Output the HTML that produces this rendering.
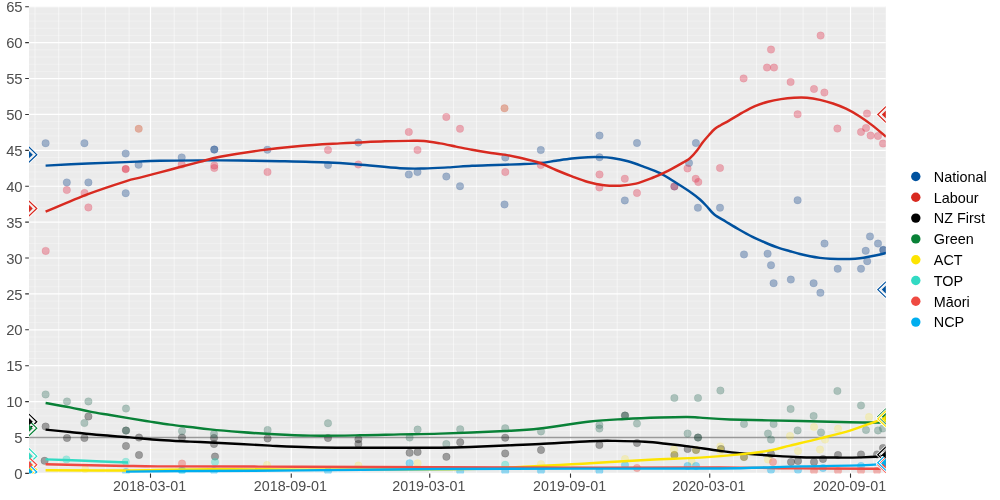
<!DOCTYPE html><html><head><meta charset="utf-8"><style>html,body{margin:0;padding:0;background:#fff;}svg{display:block;will-change:transform;}text{font-family:"Liberation Sans",sans-serif;}</style></head><body>
<svg width="1000" height="500" viewBox="0 0 1000 500">
<defs><clipPath id="pc"><rect x="29.00" y="6.10" width="856.80" height="467.50"/></clipPath></defs>
<rect x="0" y="0" width="1000" height="500" fill="#ffffff"/>
<rect x="29.00" y="6.10" width="856.80" height="467.50" fill="#EBEBEB"/>
<path d="M29.0 466.22H885.8 M29.0 459.04H885.8 M29.0 451.86H885.8 M29.0 444.68H885.8 M29.0 430.32H885.8 M29.0 423.15H885.8 M29.0 415.97H885.8 M29.0 408.79H885.8 M29.0 394.43H885.8 M29.0 387.25H885.8 M29.0 380.07H885.8 M29.0 372.89H885.8 M29.0 358.53H885.8 M29.0 351.35H885.8 M29.0 344.17H885.8 M29.0 336.99H885.8 M29.0 322.64H885.8 M29.0 315.46H885.8 M29.0 308.28H885.8 M29.0 301.10H885.8 M29.0 286.74H885.8 M29.0 279.56H885.8 M29.0 272.38H885.8 M29.0 265.20H885.8 M29.0 250.84H885.8 M29.0 243.66H885.8 M29.0 236.49H885.8 M29.0 229.31H885.8 M29.0 214.95H885.8 M29.0 207.77H885.8 M29.0 200.59H885.8 M29.0 193.41H885.8 M29.0 179.05H885.8 M29.0 171.87H885.8 M29.0 164.69H885.8 M29.0 157.51H885.8 M29.0 143.16H885.8 M29.0 135.98H885.8 M29.0 128.80H885.8 M29.0 121.62H885.8 M29.0 107.26H885.8 M29.0 100.08H885.8 M29.0 92.90H885.8 M29.0 85.72H885.8 M29.0 71.36H885.8 M29.0 64.18H885.8 M29.0 57.00H885.8 M29.0 49.83H885.8 M29.0 35.47H885.8 M29.0 28.29H885.8 M29.0 21.11H885.8 M29.0 13.93H885.8" stroke="#ffffff" stroke-opacity="0.55" stroke-width="0.55" fill="none"/>
<path d="M34.98 6.1V473.6 M58.70 6.1V473.6 M81.65 6.1V473.6 M105.36 6.1V473.6 M129.08 6.1V473.6 M174.22 6.1V473.6 M197.17 6.1V473.6 M220.88 6.1V473.6 M243.84 6.1V473.6 M267.55 6.1V473.6 M314.22 6.1V473.6 M337.93 6.1V473.6 M360.89 6.1V473.6 M384.60 6.1V473.6 M408.32 6.1V473.6 M453.45 6.1V473.6 M476.41 6.1V473.6 M500.12 6.1V473.6 M523.07 6.1V473.6 M546.79 6.1V473.6 M593.46 6.1V473.6 M617.17 6.1V473.6 M640.12 6.1V473.6 M663.84 6.1V473.6 M687.56 6.1V473.6 M733.46 6.1V473.6 M756.41 6.1V473.6 M780.13 6.1V473.6 M803.08 6.1V473.6 M826.79 6.1V473.6 M873.46 6.1V473.6" stroke="#ffffff" stroke-opacity="0.75" stroke-width="0.7" fill="none"/>
<path d="M29.0 473.40H885.8 M29.0 437.50H885.8 M29.0 401.61H885.8 M29.0 365.71H885.8 M29.0 329.82H885.8 M29.0 293.92H885.8 M29.0 258.02H885.8 M29.0 222.13H885.8 M29.0 186.23H885.8 M29.0 150.33H885.8 M29.0 114.44H885.8 M29.0 78.54H885.8 M29.0 42.65H885.8 M29.0 6.75H885.8 M150.50 6.1V473.6 M291.27 6.1V473.6 M429.74 6.1V473.6 M570.51 6.1V473.6 M709.74 6.1V473.6 M850.51 6.1V473.6" stroke="#ffffff" stroke-width="1.2" fill="none"/>
<path d="M29.0 437.50H885.8" stroke="#9a9a9a" stroke-width="1.6" fill="none"/>
<g clip-path="url(#pc)">
<circle cx="45.6" cy="143.2" r="3.75" fill="#1f4f8f" fill-opacity="0.38" stroke="#1f4f8f" stroke-opacity="0.19" stroke-width="0.7"/>
<circle cx="84.4" cy="143.2" r="3.75" fill="#1f4f8f" fill-opacity="0.38" stroke="#1f4f8f" stroke-opacity="0.19" stroke-width="0.7"/>
<circle cx="66.8" cy="182.4" r="3.75" fill="#1f4f8f" fill-opacity="0.38" stroke="#1f4f8f" stroke-opacity="0.19" stroke-width="0.7"/>
<circle cx="88.4" cy="182.4" r="3.75" fill="#1f4f8f" fill-opacity="0.38" stroke="#1f4f8f" stroke-opacity="0.19" stroke-width="0.7"/>
<circle cx="125.7" cy="153.6" r="3.75" fill="#1f4f8f" fill-opacity="0.38" stroke="#1f4f8f" stroke-opacity="0.19" stroke-width="0.7"/>
<circle cx="125.7" cy="193.2" r="3.75" fill="#1f4f8f" fill-opacity="0.38" stroke="#1f4f8f" stroke-opacity="0.19" stroke-width="0.7"/>
<circle cx="138.6" cy="164.8" r="3.75" fill="#1f4f8f" fill-opacity="0.38" stroke="#1f4f8f" stroke-opacity="0.19" stroke-width="0.7"/>
<circle cx="181.7" cy="157.4" r="3.75" fill="#1f4f8f" fill-opacity="0.38" stroke="#1f4f8f" stroke-opacity="0.19" stroke-width="0.7"/>
<circle cx="214.3" cy="149.6" r="3.75" fill="#1f4f8f" fill-opacity="0.38" stroke="#1f4f8f" stroke-opacity="0.19" stroke-width="0.7"/>
<circle cx="214.3" cy="149.6" r="3.75" fill="#1f4f8f" fill-opacity="0.38" stroke="#1f4f8f" stroke-opacity="0.19" stroke-width="0.7"/>
<circle cx="267.4" cy="149.7" r="3.75" fill="#1f4f8f" fill-opacity="0.38" stroke="#1f4f8f" stroke-opacity="0.19" stroke-width="0.7"/>
<circle cx="328.0" cy="165.0" r="3.75" fill="#1f4f8f" fill-opacity="0.38" stroke="#1f4f8f" stroke-opacity="0.19" stroke-width="0.7"/>
<circle cx="358.3" cy="142.5" r="3.75" fill="#1f4f8f" fill-opacity="0.38" stroke="#1f4f8f" stroke-opacity="0.19" stroke-width="0.7"/>
<circle cx="408.8" cy="174.5" r="3.75" fill="#1f4f8f" fill-opacity="0.38" stroke="#1f4f8f" stroke-opacity="0.19" stroke-width="0.7"/>
<circle cx="417.5" cy="172.0" r="3.75" fill="#1f4f8f" fill-opacity="0.38" stroke="#1f4f8f" stroke-opacity="0.19" stroke-width="0.7"/>
<circle cx="446.3" cy="176.5" r="3.75" fill="#1f4f8f" fill-opacity="0.38" stroke="#1f4f8f" stroke-opacity="0.19" stroke-width="0.7"/>
<circle cx="460.0" cy="186.2" r="3.75" fill="#1f4f8f" fill-opacity="0.38" stroke="#1f4f8f" stroke-opacity="0.19" stroke-width="0.7"/>
<circle cx="505.3" cy="157.5" r="3.75" fill="#1f4f8f" fill-opacity="0.38" stroke="#1f4f8f" stroke-opacity="0.19" stroke-width="0.7"/>
<circle cx="504.5" cy="204.4" r="3.75" fill="#1f4f8f" fill-opacity="0.38" stroke="#1f4f8f" stroke-opacity="0.19" stroke-width="0.7"/>
<circle cx="540.8" cy="150.0" r="3.75" fill="#1f4f8f" fill-opacity="0.38" stroke="#1f4f8f" stroke-opacity="0.19" stroke-width="0.7"/>
<circle cx="599.5" cy="135.6" r="3.75" fill="#1f4f8f" fill-opacity="0.38" stroke="#1f4f8f" stroke-opacity="0.19" stroke-width="0.7"/>
<circle cx="599.5" cy="157.3" r="3.75" fill="#1f4f8f" fill-opacity="0.38" stroke="#1f4f8f" stroke-opacity="0.19" stroke-width="0.7"/>
<circle cx="637.0" cy="143.0" r="3.75" fill="#1f4f8f" fill-opacity="0.38" stroke="#1f4f8f" stroke-opacity="0.19" stroke-width="0.7"/>
<circle cx="624.8" cy="200.4" r="3.75" fill="#1f4f8f" fill-opacity="0.38" stroke="#1f4f8f" stroke-opacity="0.19" stroke-width="0.7"/>
<circle cx="674.4" cy="186.4" r="3.75" fill="#1f4f8f" fill-opacity="0.38" stroke="#1f4f8f" stroke-opacity="0.19" stroke-width="0.7"/>
<circle cx="689.0" cy="163.0" r="3.75" fill="#1f4f8f" fill-opacity="0.38" stroke="#1f4f8f" stroke-opacity="0.19" stroke-width="0.7"/>
<circle cx="695.9" cy="143.0" r="3.75" fill="#1f4f8f" fill-opacity="0.38" stroke="#1f4f8f" stroke-opacity="0.19" stroke-width="0.7"/>
<circle cx="697.9" cy="207.7" r="3.75" fill="#1f4f8f" fill-opacity="0.38" stroke="#1f4f8f" stroke-opacity="0.19" stroke-width="0.7"/>
<circle cx="720.0" cy="207.7" r="3.75" fill="#1f4f8f" fill-opacity="0.38" stroke="#1f4f8f" stroke-opacity="0.19" stroke-width="0.7"/>
<circle cx="797.6" cy="200.2" r="3.75" fill="#1f4f8f" fill-opacity="0.38" stroke="#1f4f8f" stroke-opacity="0.19" stroke-width="0.7"/>
<circle cx="744.0" cy="254.4" r="3.75" fill="#1f4f8f" fill-opacity="0.38" stroke="#1f4f8f" stroke-opacity="0.19" stroke-width="0.7"/>
<circle cx="767.6" cy="253.7" r="3.75" fill="#1f4f8f" fill-opacity="0.38" stroke="#1f4f8f" stroke-opacity="0.19" stroke-width="0.7"/>
<circle cx="771.0" cy="265.2" r="3.75" fill="#1f4f8f" fill-opacity="0.38" stroke="#1f4f8f" stroke-opacity="0.19" stroke-width="0.7"/>
<circle cx="773.6" cy="283.2" r="3.75" fill="#1f4f8f" fill-opacity="0.38" stroke="#1f4f8f" stroke-opacity="0.19" stroke-width="0.7"/>
<circle cx="790.8" cy="279.6" r="3.75" fill="#1f4f8f" fill-opacity="0.38" stroke="#1f4f8f" stroke-opacity="0.19" stroke-width="0.7"/>
<circle cx="813.6" cy="283.2" r="3.75" fill="#1f4f8f" fill-opacity="0.38" stroke="#1f4f8f" stroke-opacity="0.19" stroke-width="0.7"/>
<circle cx="820.4" cy="292.8" r="3.75" fill="#1f4f8f" fill-opacity="0.38" stroke="#1f4f8f" stroke-opacity="0.19" stroke-width="0.7"/>
<circle cx="824.5" cy="243.6" r="3.75" fill="#1f4f8f" fill-opacity="0.38" stroke="#1f4f8f" stroke-opacity="0.19" stroke-width="0.7"/>
<circle cx="837.7" cy="268.8" r="3.75" fill="#1f4f8f" fill-opacity="0.38" stroke="#1f4f8f" stroke-opacity="0.19" stroke-width="0.7"/>
<circle cx="861.0" cy="268.8" r="3.75" fill="#1f4f8f" fill-opacity="0.38" stroke="#1f4f8f" stroke-opacity="0.19" stroke-width="0.7"/>
<circle cx="867.2" cy="261.2" r="3.75" fill="#1f4f8f" fill-opacity="0.38" stroke="#1f4f8f" stroke-opacity="0.19" stroke-width="0.7"/>
<circle cx="865.7" cy="250.8" r="3.75" fill="#1f4f8f" fill-opacity="0.38" stroke="#1f4f8f" stroke-opacity="0.19" stroke-width="0.7"/>
<circle cx="870.0" cy="236.4" r="3.75" fill="#1f4f8f" fill-opacity="0.38" stroke="#1f4f8f" stroke-opacity="0.19" stroke-width="0.7"/>
<circle cx="878.0" cy="243.6" r="3.75" fill="#1f4f8f" fill-opacity="0.38" stroke="#1f4f8f" stroke-opacity="0.19" stroke-width="0.7"/>
<circle cx="883.3" cy="250.0" r="3.75" fill="#1f4f8f" fill-opacity="0.38" stroke="#1f4f8f" stroke-opacity="0.19" stroke-width="0.7"/>
<circle cx="883.3" cy="250.0" r="3.75" fill="#1f4f8f" fill-opacity="0.38" stroke="#1f4f8f" stroke-opacity="0.19" stroke-width="0.7"/>
<circle cx="45.7" cy="250.9" r="3.75" fill="#E0304A" fill-opacity="0.36" stroke="#E0304A" stroke-opacity="0.18" stroke-width="0.7"/>
<circle cx="66.8" cy="190.0" r="3.75" fill="#E0304A" fill-opacity="0.36" stroke="#E0304A" stroke-opacity="0.18" stroke-width="0.7"/>
<circle cx="84.5" cy="193.0" r="3.75" fill="#E0304A" fill-opacity="0.36" stroke="#E0304A" stroke-opacity="0.18" stroke-width="0.7"/>
<circle cx="88.4" cy="207.4" r="3.75" fill="#E0304A" fill-opacity="0.36" stroke="#E0304A" stroke-opacity="0.18" stroke-width="0.7"/>
<circle cx="125.7" cy="169.1" r="3.75" fill="#E0304A" fill-opacity="0.60" stroke="#E0304A" stroke-opacity="0.30" stroke-width="0.7"/>
<circle cx="138.7" cy="128.8" r="3.75" fill="#CF4A22" fill-opacity="0.38" stroke="#CF4A22" stroke-opacity="0.19" stroke-width="0.7"/>
<circle cx="181.7" cy="164.6" r="3.75" fill="#E0304A" fill-opacity="0.36" stroke="#E0304A" stroke-opacity="0.18" stroke-width="0.7"/>
<circle cx="214.3" cy="165.5" r="3.75" fill="#E0304A" fill-opacity="0.36" stroke="#E0304A" stroke-opacity="0.18" stroke-width="0.7"/>
<circle cx="214.3" cy="168.0" r="3.75" fill="#E0304A" fill-opacity="0.36" stroke="#E0304A" stroke-opacity="0.18" stroke-width="0.7"/>
<circle cx="267.5" cy="172.0" r="3.75" fill="#E0304A" fill-opacity="0.36" stroke="#E0304A" stroke-opacity="0.18" stroke-width="0.7"/>
<circle cx="328.0" cy="150.0" r="3.75" fill="#E0304A" fill-opacity="0.36" stroke="#E0304A" stroke-opacity="0.18" stroke-width="0.7"/>
<circle cx="358.3" cy="164.5" r="3.75" fill="#E0304A" fill-opacity="0.36" stroke="#E0304A" stroke-opacity="0.18" stroke-width="0.7"/>
<circle cx="408.8" cy="132.0" r="3.75" fill="#E0304A" fill-opacity="0.36" stroke="#E0304A" stroke-opacity="0.18" stroke-width="0.7"/>
<circle cx="417.5" cy="150.0" r="3.75" fill="#E0304A" fill-opacity="0.36" stroke="#E0304A" stroke-opacity="0.18" stroke-width="0.7"/>
<circle cx="446.3" cy="117.0" r="3.75" fill="#E0304A" fill-opacity="0.36" stroke="#E0304A" stroke-opacity="0.18" stroke-width="0.7"/>
<circle cx="460.0" cy="128.8" r="3.75" fill="#E0304A" fill-opacity="0.36" stroke="#E0304A" stroke-opacity="0.18" stroke-width="0.7"/>
<circle cx="504.5" cy="108.3" r="3.75" fill="#CF4A22" fill-opacity="0.38" stroke="#CF4A22" stroke-opacity="0.19" stroke-width="0.7"/>
<circle cx="505.3" cy="172.0" r="3.75" fill="#E0304A" fill-opacity="0.36" stroke="#E0304A" stroke-opacity="0.18" stroke-width="0.7"/>
<circle cx="540.8" cy="165.0" r="3.75" fill="#E0304A" fill-opacity="0.36" stroke="#E0304A" stroke-opacity="0.18" stroke-width="0.7"/>
<circle cx="599.5" cy="174.5" r="3.75" fill="#E0304A" fill-opacity="0.36" stroke="#E0304A" stroke-opacity="0.18" stroke-width="0.7"/>
<circle cx="599.4" cy="187.4" r="3.75" fill="#E0304A" fill-opacity="0.36" stroke="#E0304A" stroke-opacity="0.18" stroke-width="0.7"/>
<circle cx="624.8" cy="178.7" r="3.75" fill="#E0304A" fill-opacity="0.36" stroke="#E0304A" stroke-opacity="0.18" stroke-width="0.7"/>
<circle cx="637.0" cy="193.0" r="3.75" fill="#E0304A" fill-opacity="0.36" stroke="#E0304A" stroke-opacity="0.18" stroke-width="0.7"/>
<circle cx="674.4" cy="186.4" r="3.75" fill="#E0304A" fill-opacity="0.36" stroke="#E0304A" stroke-opacity="0.18" stroke-width="0.7"/>
<circle cx="687.5" cy="168.4" r="3.75" fill="#E0304A" fill-opacity="0.36" stroke="#E0304A" stroke-opacity="0.18" stroke-width="0.7"/>
<circle cx="695.7" cy="178.8" r="3.75" fill="#E0304A" fill-opacity="0.36" stroke="#E0304A" stroke-opacity="0.18" stroke-width="0.7"/>
<circle cx="698.3" cy="182.0" r="3.75" fill="#E0304A" fill-opacity="0.36" stroke="#E0304A" stroke-opacity="0.18" stroke-width="0.7"/>
<circle cx="720.0" cy="168.0" r="3.75" fill="#E0304A" fill-opacity="0.36" stroke="#E0304A" stroke-opacity="0.18" stroke-width="0.7"/>
<circle cx="743.6" cy="78.4" r="3.75" fill="#E0304A" fill-opacity="0.36" stroke="#E0304A" stroke-opacity="0.18" stroke-width="0.7"/>
<circle cx="767.0" cy="67.6" r="3.75" fill="#E0304A" fill-opacity="0.36" stroke="#E0304A" stroke-opacity="0.18" stroke-width="0.7"/>
<circle cx="774.0" cy="67.6" r="3.75" fill="#E0304A" fill-opacity="0.36" stroke="#E0304A" stroke-opacity="0.18" stroke-width="0.7"/>
<circle cx="771.0" cy="49.6" r="3.75" fill="#E0304A" fill-opacity="0.36" stroke="#E0304A" stroke-opacity="0.18" stroke-width="0.7"/>
<circle cx="790.6" cy="82.0" r="3.75" fill="#E0304A" fill-opacity="0.36" stroke="#E0304A" stroke-opacity="0.18" stroke-width="0.7"/>
<circle cx="797.6" cy="114.3" r="3.75" fill="#E0304A" fill-opacity="0.36" stroke="#E0304A" stroke-opacity="0.18" stroke-width="0.7"/>
<circle cx="814.0" cy="89.0" r="3.75" fill="#E0304A" fill-opacity="0.36" stroke="#E0304A" stroke-opacity="0.18" stroke-width="0.7"/>
<circle cx="820.6" cy="35.6" r="3.75" fill="#E0304A" fill-opacity="0.36" stroke="#E0304A" stroke-opacity="0.18" stroke-width="0.7"/>
<circle cx="824.4" cy="92.6" r="3.75" fill="#E0304A" fill-opacity="0.36" stroke="#E0304A" stroke-opacity="0.18" stroke-width="0.7"/>
<circle cx="837.4" cy="128.6" r="3.75" fill="#E0304A" fill-opacity="0.36" stroke="#E0304A" stroke-opacity="0.18" stroke-width="0.7"/>
<circle cx="861.0" cy="132.0" r="3.75" fill="#E0304A" fill-opacity="0.36" stroke="#E0304A" stroke-opacity="0.18" stroke-width="0.7"/>
<circle cx="866.0" cy="128.0" r="3.75" fill="#E0304A" fill-opacity="0.36" stroke="#E0304A" stroke-opacity="0.18" stroke-width="0.7"/>
<circle cx="867.0" cy="113.6" r="3.75" fill="#E0304A" fill-opacity="0.36" stroke="#E0304A" stroke-opacity="0.18" stroke-width="0.7"/>
<circle cx="870.6" cy="135.6" r="3.75" fill="#E0304A" fill-opacity="0.36" stroke="#E0304A" stroke-opacity="0.18" stroke-width="0.7"/>
<circle cx="878.0" cy="136.0" r="3.75" fill="#E0304A" fill-opacity="0.36" stroke="#E0304A" stroke-opacity="0.18" stroke-width="0.7"/>
<circle cx="883.0" cy="143.6" r="3.75" fill="#E0304A" fill-opacity="0.36" stroke="#E0304A" stroke-opacity="0.18" stroke-width="0.7"/>
<circle cx="44.6" cy="460.8" r="3.75" fill="#000000" fill-opacity="0.34" stroke="#000000" stroke-opacity="0.17" stroke-width="0.7"/>
<circle cx="674.4" cy="455.0" r="3.75" fill="#000000" fill-opacity="0.34" stroke="#000000" stroke-opacity="0.17" stroke-width="0.7"/>
<circle cx="696.0" cy="450.0" r="3.75" fill="#000000" fill-opacity="0.34" stroke="#000000" stroke-opacity="0.17" stroke-width="0.7"/>
<circle cx="45.6" cy="426.6" r="3.75" fill="#000000" fill-opacity="0.34" stroke="#000000" stroke-opacity="0.17" stroke-width="0.7"/>
<circle cx="67.0" cy="438.0" r="3.75" fill="#000000" fill-opacity="0.34" stroke="#000000" stroke-opacity="0.17" stroke-width="0.7"/>
<circle cx="84.4" cy="438.0" r="3.75" fill="#000000" fill-opacity="0.34" stroke="#000000" stroke-opacity="0.17" stroke-width="0.7"/>
<circle cx="88.4" cy="416.4" r="3.75" fill="#000000" fill-opacity="0.34" stroke="#000000" stroke-opacity="0.17" stroke-width="0.7"/>
<circle cx="126.0" cy="446.0" r="3.75" fill="#000000" fill-opacity="0.34" stroke="#000000" stroke-opacity="0.17" stroke-width="0.7"/>
<circle cx="126.0" cy="430.6" r="3.75" fill="#000000" fill-opacity="0.34" stroke="#000000" stroke-opacity="0.17" stroke-width="0.7"/>
<circle cx="139.0" cy="437.6" r="3.75" fill="#000000" fill-opacity="0.34" stroke="#000000" stroke-opacity="0.17" stroke-width="0.7"/>
<circle cx="139.0" cy="455.0" r="3.75" fill="#000000" fill-opacity="0.34" stroke="#000000" stroke-opacity="0.17" stroke-width="0.7"/>
<circle cx="182.0" cy="437.6" r="3.75" fill="#000000" fill-opacity="0.34" stroke="#000000" stroke-opacity="0.17" stroke-width="0.7"/>
<circle cx="214.0" cy="438.0" r="3.75" fill="#000000" fill-opacity="0.34" stroke="#000000" stroke-opacity="0.17" stroke-width="0.7"/>
<circle cx="214.0" cy="444.0" r="3.75" fill="#000000" fill-opacity="0.34" stroke="#000000" stroke-opacity="0.17" stroke-width="0.7"/>
<circle cx="215.0" cy="456.6" r="3.75" fill="#000000" fill-opacity="0.34" stroke="#000000" stroke-opacity="0.17" stroke-width="0.7"/>
<circle cx="267.6" cy="438.4" r="3.75" fill="#000000" fill-opacity="0.34" stroke="#000000" stroke-opacity="0.17" stroke-width="0.7"/>
<circle cx="328.0" cy="438.0" r="3.75" fill="#000000" fill-opacity="0.34" stroke="#000000" stroke-opacity="0.17" stroke-width="0.7"/>
<circle cx="358.4" cy="439.2" r="3.75" fill="#000000" fill-opacity="0.34" stroke="#000000" stroke-opacity="0.17" stroke-width="0.7"/>
<circle cx="358.4" cy="444.0" r="3.75" fill="#000000" fill-opacity="0.34" stroke="#000000" stroke-opacity="0.17" stroke-width="0.7"/>
<circle cx="409.6" cy="452.8" r="3.75" fill="#000000" fill-opacity="0.34" stroke="#000000" stroke-opacity="0.17" stroke-width="0.7"/>
<circle cx="417.6" cy="452.0" r="3.75" fill="#000000" fill-opacity="0.34" stroke="#000000" stroke-opacity="0.17" stroke-width="0.7"/>
<circle cx="446.4" cy="456.8" r="3.75" fill="#000000" fill-opacity="0.34" stroke="#000000" stroke-opacity="0.17" stroke-width="0.7"/>
<circle cx="460.2" cy="442.3" r="3.75" fill="#000000" fill-opacity="0.34" stroke="#000000" stroke-opacity="0.17" stroke-width="0.7"/>
<circle cx="505.2" cy="437.7" r="3.75" fill="#000000" fill-opacity="0.34" stroke="#000000" stroke-opacity="0.17" stroke-width="0.7"/>
<circle cx="505.2" cy="453.4" r="3.75" fill="#000000" fill-opacity="0.34" stroke="#000000" stroke-opacity="0.17" stroke-width="0.7"/>
<circle cx="541.0" cy="450.0" r="3.75" fill="#000000" fill-opacity="0.34" stroke="#000000" stroke-opacity="0.17" stroke-width="0.7"/>
<circle cx="599.4" cy="445.0" r="3.75" fill="#000000" fill-opacity="0.34" stroke="#000000" stroke-opacity="0.17" stroke-width="0.7"/>
<circle cx="625.0" cy="415.6" r="3.75" fill="#000000" fill-opacity="0.34" stroke="#000000" stroke-opacity="0.17" stroke-width="0.7"/>
<circle cx="637.0" cy="443.0" r="3.75" fill="#000000" fill-opacity="0.34" stroke="#000000" stroke-opacity="0.17" stroke-width="0.7"/>
<circle cx="687.6" cy="449.0" r="3.75" fill="#000000" fill-opacity="0.34" stroke="#000000" stroke-opacity="0.17" stroke-width="0.7"/>
<circle cx="698.0" cy="437.6" r="3.75" fill="#000000" fill-opacity="0.34" stroke="#000000" stroke-opacity="0.17" stroke-width="0.7"/>
<circle cx="771.0" cy="454.0" r="3.75" fill="#000000" fill-opacity="0.34" stroke="#000000" stroke-opacity="0.17" stroke-width="0.7"/>
<circle cx="744.0" cy="457.0" r="3.75" fill="#000000" fill-opacity="0.34" stroke="#000000" stroke-opacity="0.17" stroke-width="0.7"/>
<circle cx="721.0" cy="449.0" r="3.75" fill="#000000" fill-opacity="0.34" stroke="#000000" stroke-opacity="0.17" stroke-width="0.7"/>
<circle cx="791.0" cy="462.0" r="3.75" fill="#000000" fill-opacity="0.34" stroke="#000000" stroke-opacity="0.17" stroke-width="0.7"/>
<circle cx="798.0" cy="461.0" r="3.75" fill="#000000" fill-opacity="0.34" stroke="#000000" stroke-opacity="0.17" stroke-width="0.7"/>
<circle cx="814.0" cy="462.0" r="3.75" fill="#000000" fill-opacity="0.34" stroke="#000000" stroke-opacity="0.17" stroke-width="0.7"/>
<circle cx="823.0" cy="459.0" r="3.75" fill="#000000" fill-opacity="0.34" stroke="#000000" stroke-opacity="0.17" stroke-width="0.7"/>
<circle cx="838.0" cy="455.0" r="3.75" fill="#000000" fill-opacity="0.34" stroke="#000000" stroke-opacity="0.17" stroke-width="0.7"/>
<circle cx="861.0" cy="454.4" r="3.75" fill="#000000" fill-opacity="0.34" stroke="#000000" stroke-opacity="0.17" stroke-width="0.7"/>
<circle cx="877.0" cy="454.4" r="3.75" fill="#000000" fill-opacity="0.34" stroke="#000000" stroke-opacity="0.17" stroke-width="0.7"/>
<circle cx="883.0" cy="448.0" r="3.75" fill="#000000" fill-opacity="0.34" stroke="#000000" stroke-opacity="0.17" stroke-width="0.7"/>
<circle cx="45.6" cy="394.4" r="3.75" fill="#2b6b58" fill-opacity="0.33" stroke="#2b6b58" stroke-opacity="0.17" stroke-width="0.7"/>
<circle cx="67.0" cy="401.4" r="3.75" fill="#2b6b58" fill-opacity="0.33" stroke="#2b6b58" stroke-opacity="0.17" stroke-width="0.7"/>
<circle cx="88.4" cy="401.4" r="3.75" fill="#2b6b58" fill-opacity="0.33" stroke="#2b6b58" stroke-opacity="0.17" stroke-width="0.7"/>
<circle cx="84.4" cy="423.0" r="3.75" fill="#2b6b58" fill-opacity="0.33" stroke="#2b6b58" stroke-opacity="0.17" stroke-width="0.7"/>
<circle cx="126.0" cy="408.6" r="3.75" fill="#2b6b58" fill-opacity="0.33" stroke="#2b6b58" stroke-opacity="0.17" stroke-width="0.7"/>
<circle cx="126.0" cy="430.6" r="3.75" fill="#2b6b58" fill-opacity="0.33" stroke="#2b6b58" stroke-opacity="0.17" stroke-width="0.7"/>
<circle cx="182.0" cy="431.0" r="3.75" fill="#2b6b58" fill-opacity="0.33" stroke="#2b6b58" stroke-opacity="0.17" stroke-width="0.7"/>
<circle cx="214.0" cy="434.0" r="3.75" fill="#2b6b58" fill-opacity="0.33" stroke="#2b6b58" stroke-opacity="0.17" stroke-width="0.7"/>
<circle cx="267.6" cy="430.0" r="3.75" fill="#2b6b58" fill-opacity="0.33" stroke="#2b6b58" stroke-opacity="0.17" stroke-width="0.7"/>
<circle cx="328.0" cy="423.2" r="3.75" fill="#2b6b58" fill-opacity="0.33" stroke="#2b6b58" stroke-opacity="0.17" stroke-width="0.7"/>
<circle cx="409.6" cy="437.6" r="3.75" fill="#2b6b58" fill-opacity="0.33" stroke="#2b6b58" stroke-opacity="0.17" stroke-width="0.7"/>
<circle cx="417.6" cy="429.6" r="3.75" fill="#2b6b58" fill-opacity="0.33" stroke="#2b6b58" stroke-opacity="0.17" stroke-width="0.7"/>
<circle cx="446.3" cy="444.0" r="3.75" fill="#2b6b58" fill-opacity="0.33" stroke="#2b6b58" stroke-opacity="0.17" stroke-width="0.7"/>
<circle cx="460.2" cy="429.3" r="3.75" fill="#2b6b58" fill-opacity="0.33" stroke="#2b6b58" stroke-opacity="0.17" stroke-width="0.7"/>
<circle cx="505.2" cy="428.2" r="3.75" fill="#2b6b58" fill-opacity="0.33" stroke="#2b6b58" stroke-opacity="0.17" stroke-width="0.7"/>
<circle cx="541.0" cy="431.4" r="3.75" fill="#2b6b58" fill-opacity="0.33" stroke="#2b6b58" stroke-opacity="0.17" stroke-width="0.7"/>
<circle cx="599.4" cy="425.0" r="3.75" fill="#2b6b58" fill-opacity="0.33" stroke="#2b6b58" stroke-opacity="0.17" stroke-width="0.7"/>
<circle cx="599.4" cy="428.6" r="3.75" fill="#2b6b58" fill-opacity="0.33" stroke="#2b6b58" stroke-opacity="0.17" stroke-width="0.7"/>
<circle cx="637.0" cy="423.6" r="3.75" fill="#2b6b58" fill-opacity="0.33" stroke="#2b6b58" stroke-opacity="0.17" stroke-width="0.7"/>
<circle cx="625.0" cy="415.6" r="3.75" fill="#2b6b58" fill-opacity="0.33" stroke="#2b6b58" stroke-opacity="0.17" stroke-width="0.7"/>
<circle cx="674.4" cy="398.0" r="3.75" fill="#2b6b58" fill-opacity="0.33" stroke="#2b6b58" stroke-opacity="0.17" stroke-width="0.7"/>
<circle cx="698.0" cy="398.0" r="3.75" fill="#2b6b58" fill-opacity="0.33" stroke="#2b6b58" stroke-opacity="0.17" stroke-width="0.7"/>
<circle cx="720.4" cy="390.6" r="3.75" fill="#2b6b58" fill-opacity="0.33" stroke="#2b6b58" stroke-opacity="0.17" stroke-width="0.7"/>
<circle cx="687.6" cy="433.6" r="3.75" fill="#2b6b58" fill-opacity="0.33" stroke="#2b6b58" stroke-opacity="0.17" stroke-width="0.7"/>
<circle cx="698.0" cy="437.6" r="3.75" fill="#2b6b58" fill-opacity="0.33" stroke="#2b6b58" stroke-opacity="0.17" stroke-width="0.7"/>
<circle cx="744.0" cy="424.0" r="3.75" fill="#2b6b58" fill-opacity="0.33" stroke="#2b6b58" stroke-opacity="0.17" stroke-width="0.7"/>
<circle cx="773.6" cy="424.0" r="3.75" fill="#2b6b58" fill-opacity="0.33" stroke="#2b6b58" stroke-opacity="0.17" stroke-width="0.7"/>
<circle cx="768.0" cy="433.6" r="3.75" fill="#2b6b58" fill-opacity="0.33" stroke="#2b6b58" stroke-opacity="0.17" stroke-width="0.7"/>
<circle cx="771.0" cy="439.6" r="3.75" fill="#2b6b58" fill-opacity="0.33" stroke="#2b6b58" stroke-opacity="0.17" stroke-width="0.7"/>
<circle cx="790.6" cy="409.0" r="3.75" fill="#2b6b58" fill-opacity="0.33" stroke="#2b6b58" stroke-opacity="0.17" stroke-width="0.7"/>
<circle cx="797.6" cy="430.4" r="3.75" fill="#2b6b58" fill-opacity="0.33" stroke="#2b6b58" stroke-opacity="0.17" stroke-width="0.7"/>
<circle cx="813.6" cy="416.0" r="3.75" fill="#2b6b58" fill-opacity="0.33" stroke="#2b6b58" stroke-opacity="0.17" stroke-width="0.7"/>
<circle cx="821.0" cy="432.4" r="3.75" fill="#2b6b58" fill-opacity="0.33" stroke="#2b6b58" stroke-opacity="0.17" stroke-width="0.7"/>
<circle cx="837.4" cy="391.0" r="3.75" fill="#2b6b58" fill-opacity="0.33" stroke="#2b6b58" stroke-opacity="0.17" stroke-width="0.7"/>
<circle cx="861.0" cy="405.4" r="3.75" fill="#2b6b58" fill-opacity="0.33" stroke="#2b6b58" stroke-opacity="0.17" stroke-width="0.7"/>
<circle cx="866.0" cy="430.0" r="3.75" fill="#2b6b58" fill-opacity="0.33" stroke="#2b6b58" stroke-opacity="0.17" stroke-width="0.7"/>
<circle cx="878.0" cy="430.4" r="3.75" fill="#2b6b58" fill-opacity="0.33" stroke="#2b6b58" stroke-opacity="0.17" stroke-width="0.7"/>
<circle cx="883.0" cy="428.4" r="3.75" fill="#2b6b58" fill-opacity="0.33" stroke="#2b6b58" stroke-opacity="0.17" stroke-width="0.7"/>
<circle cx="85.0" cy="469.0" r="3.75" fill="#FDE401" fill-opacity="0.20" stroke="#FDE401" stroke-opacity="0.10" stroke-width="0.7"/>
<circle cx="674.0" cy="449.6" r="3.75" fill="#FDE401" fill-opacity="0.20" stroke="#FDE401" stroke-opacity="0.10" stroke-width="0.7"/>
<circle cx="720.4" cy="446.4" r="3.75" fill="#FDE401" fill-opacity="0.20" stroke="#FDE401" stroke-opacity="0.10" stroke-width="0.7"/>
<circle cx="691.6" cy="461.6" r="3.75" fill="#FDE401" fill-opacity="0.20" stroke="#FDE401" stroke-opacity="0.10" stroke-width="0.7"/>
<circle cx="838.0" cy="428.8" r="3.75" fill="#FDE401" fill-opacity="0.20" stroke="#FDE401" stroke-opacity="0.10" stroke-width="0.7"/>
<circle cx="267.0" cy="465.0" r="3.75" fill="#FDE401" fill-opacity="0.20" stroke="#FDE401" stroke-opacity="0.10" stroke-width="0.7"/>
<circle cx="358.4" cy="465.6" r="3.75" fill="#FDE401" fill-opacity="0.20" stroke="#FDE401" stroke-opacity="0.10" stroke-width="0.7"/>
<circle cx="417.6" cy="463.2" r="3.75" fill="#FDE401" fill-opacity="0.20" stroke="#FDE401" stroke-opacity="0.10" stroke-width="0.7"/>
<circle cx="541.0" cy="464.2" r="3.75" fill="#FDE401" fill-opacity="0.20" stroke="#FDE401" stroke-opacity="0.10" stroke-width="0.7"/>
<circle cx="625.0" cy="459.0" r="3.75" fill="#FDE401" fill-opacity="0.20" stroke="#FDE401" stroke-opacity="0.10" stroke-width="0.7"/>
<circle cx="674.4" cy="455.0" r="3.75" fill="#FDE401" fill-opacity="0.20" stroke="#FDE401" stroke-opacity="0.10" stroke-width="0.7"/>
<circle cx="696.0" cy="450.0" r="3.75" fill="#FDE401" fill-opacity="0.20" stroke="#FDE401" stroke-opacity="0.10" stroke-width="0.7"/>
<circle cx="720.4" cy="451.0" r="3.75" fill="#FDE401" fill-opacity="0.20" stroke="#FDE401" stroke-opacity="0.10" stroke-width="0.7"/>
<circle cx="744.0" cy="457.0" r="3.75" fill="#FDE401" fill-opacity="0.20" stroke="#FDE401" stroke-opacity="0.10" stroke-width="0.7"/>
<circle cx="768.0" cy="459.6" r="3.75" fill="#FDE401" fill-opacity="0.20" stroke="#FDE401" stroke-opacity="0.10" stroke-width="0.7"/>
<circle cx="790.0" cy="436.0" r="3.75" fill="#FDE401" fill-opacity="0.20" stroke="#FDE401" stroke-opacity="0.10" stroke-width="0.7"/>
<circle cx="798.0" cy="451.0" r="3.75" fill="#FDE401" fill-opacity="0.20" stroke="#FDE401" stroke-opacity="0.10" stroke-width="0.7"/>
<circle cx="814.0" cy="427.0" r="3.75" fill="#FDE401" fill-opacity="0.20" stroke="#FDE401" stroke-opacity="0.10" stroke-width="0.7"/>
<circle cx="820.0" cy="449.6" r="3.75" fill="#FDE401" fill-opacity="0.20" stroke="#FDE401" stroke-opacity="0.10" stroke-width="0.7"/>
<circle cx="825.0" cy="439.6" r="3.75" fill="#FDE401" fill-opacity="0.20" stroke="#FDE401" stroke-opacity="0.10" stroke-width="0.7"/>
<circle cx="869.0" cy="417.0" r="3.75" fill="#FDE401" fill-opacity="0.20" stroke="#FDE401" stroke-opacity="0.10" stroke-width="0.7"/>
<circle cx="66.4" cy="459.4" r="3.75" fill="#32DAC3" fill-opacity="0.40" stroke="#32DAC3" stroke-opacity="0.20" stroke-width="0.7"/>
<circle cx="125.8" cy="461.8" r="3.75" fill="#32DAC3" fill-opacity="0.40" stroke="#32DAC3" stroke-opacity="0.20" stroke-width="0.7"/>
<circle cx="215.0" cy="462.0" r="3.75" fill="#32DAC3" fill-opacity="0.40" stroke="#32DAC3" stroke-opacity="0.20" stroke-width="0.7"/>
<circle cx="505.2" cy="464.8" r="3.75" fill="#32DAC3" fill-opacity="0.40" stroke="#32DAC3" stroke-opacity="0.20" stroke-width="0.7"/>
<circle cx="182.0" cy="470.0" r="3.75" fill="#32DAC3" fill-opacity="0.40" stroke="#32DAC3" stroke-opacity="0.20" stroke-width="0.7"/>
<circle cx="182.0" cy="463.6" r="3.75" fill="#EF4A42" fill-opacity="0.38" stroke="#EF4A42" stroke-opacity="0.19" stroke-width="0.7"/>
<circle cx="773.0" cy="462.0" r="3.75" fill="#EF4A42" fill-opacity="0.38" stroke="#EF4A42" stroke-opacity="0.19" stroke-width="0.7"/>
<circle cx="814.0" cy="471.0" r="3.75" fill="#EF4A42" fill-opacity="0.38" stroke="#EF4A42" stroke-opacity="0.19" stroke-width="0.7"/>
<circle cx="838.0" cy="471.0" r="3.75" fill="#EF4A42" fill-opacity="0.38" stroke="#EF4A42" stroke-opacity="0.19" stroke-width="0.7"/>
<circle cx="861.0" cy="471.0" r="3.75" fill="#EF4A42" fill-opacity="0.38" stroke="#EF4A42" stroke-opacity="0.19" stroke-width="0.7"/>
<circle cx="877.0" cy="471.0" r="3.75" fill="#EF4A42" fill-opacity="0.38" stroke="#EF4A42" stroke-opacity="0.19" stroke-width="0.7"/>
<circle cx="637.0" cy="468.0" r="3.75" fill="#EF4A42" fill-opacity="0.38" stroke="#EF4A42" stroke-opacity="0.19" stroke-width="0.7"/>
<circle cx="328.0" cy="471.2" r="3.75" fill="#00AEEF" fill-opacity="0.40" stroke="#00AEEF" stroke-opacity="0.20" stroke-width="0.7"/>
<circle cx="409.6" cy="463.2" r="3.75" fill="#00AEEF" fill-opacity="0.40" stroke="#00AEEF" stroke-opacity="0.20" stroke-width="0.7"/>
<circle cx="460.2" cy="471.5" r="3.75" fill="#00AEEF" fill-opacity="0.40" stroke="#00AEEF" stroke-opacity="0.20" stroke-width="0.7"/>
<circle cx="505.2" cy="471.5" r="3.75" fill="#00AEEF" fill-opacity="0.40" stroke="#00AEEF" stroke-opacity="0.20" stroke-width="0.7"/>
<circle cx="541.0" cy="471.0" r="3.75" fill="#00AEEF" fill-opacity="0.40" stroke="#00AEEF" stroke-opacity="0.20" stroke-width="0.7"/>
<circle cx="599.4" cy="471.0" r="3.75" fill="#00AEEF" fill-opacity="0.40" stroke="#00AEEF" stroke-opacity="0.20" stroke-width="0.7"/>
<circle cx="625.0" cy="465.0" r="3.75" fill="#00AEEF" fill-opacity="0.40" stroke="#00AEEF" stroke-opacity="0.20" stroke-width="0.7"/>
<circle cx="687.6" cy="466.0" r="3.75" fill="#00AEEF" fill-opacity="0.40" stroke="#00AEEF" stroke-opacity="0.20" stroke-width="0.7"/>
<circle cx="696.0" cy="466.0" r="3.75" fill="#00AEEF" fill-opacity="0.40" stroke="#00AEEF" stroke-opacity="0.20" stroke-width="0.7"/>
<circle cx="771.0" cy="470.0" r="3.75" fill="#00AEEF" fill-opacity="0.40" stroke="#00AEEF" stroke-opacity="0.20" stroke-width="0.7"/>
<circle cx="798.0" cy="470.0" r="3.75" fill="#00AEEF" fill-opacity="0.40" stroke="#00AEEF" stroke-opacity="0.20" stroke-width="0.7"/>
<circle cx="823.0" cy="468.0" r="3.75" fill="#00AEEF" fill-opacity="0.40" stroke="#00AEEF" stroke-opacity="0.20" stroke-width="0.7"/>
<circle cx="861.0" cy="466.0" r="3.75" fill="#00AEEF" fill-opacity="0.40" stroke="#00AEEF" stroke-opacity="0.20" stroke-width="0.7"/>
<circle cx="883.0" cy="462.0" r="3.75" fill="#00AEEF" fill-opacity="0.40" stroke="#00AEEF" stroke-opacity="0.20" stroke-width="0.7"/>
<circle cx="214.0" cy="471.0" r="3.75" fill="#00AEEF" fill-opacity="0.40" stroke="#00AEEF" stroke-opacity="0.20" stroke-width="0.7"/>
<circle cx="182.0" cy="471.0" r="3.75" fill="#00AEEF" fill-opacity="0.40" stroke="#00AEEF" stroke-opacity="0.20" stroke-width="0.7"/>
<circle cx="126.0" cy="472.0" r="3.75" fill="#00AEEF" fill-opacity="0.40" stroke="#00AEEF" stroke-opacity="0.20" stroke-width="0.7"/>
<path d="M45.60 165.60 C52.67 165.25 74.67 164.08 88.00 163.50 C101.33 162.92 113.60 162.55 125.60 162.10 C137.60 161.65 147.60 161.08 160.00 160.80 C172.40 160.52 186.67 160.45 200.00 160.40 C213.33 160.35 226.67 160.37 240.00 160.50 C253.33 160.63 265.33 160.87 280.00 161.20 C294.67 161.53 315.00 161.95 328.00 162.50 C341.00 163.05 346.00 163.55 358.00 164.50 C370.00 165.45 389.00 167.53 400.00 168.20 C411.00 168.87 416.00 168.63 424.00 168.50 C432.00 168.37 440.00 167.85 448.00 167.40 C456.00 166.95 464.00 166.20 472.00 165.80 C480.00 165.40 488.00 165.27 496.00 165.00 C504.00 164.73 512.67 164.52 520.00 164.20 C527.33 163.88 534.00 163.68 540.00 163.10 C546.00 162.52 550.67 161.47 556.00 160.70 C561.33 159.93 566.67 159.08 572.00 158.50 C577.33 157.92 583.47 157.43 588.00 157.20 C592.53 156.97 595.20 156.97 599.20 157.10 C603.20 157.23 607.20 157.32 612.00 158.00 C616.80 158.68 622.67 159.73 628.00 161.20 C633.33 162.67 638.67 164.80 644.00 166.80 C649.33 168.80 654.67 170.53 660.00 173.20 C665.33 175.87 670.67 179.47 676.00 182.80 C681.33 186.13 688.00 190.42 692.00 193.20 C696.00 195.98 697.50 197.28 700.00 199.50 C702.50 201.72 704.62 204.00 707.00 206.50 C709.38 209.00 711.13 211.97 714.30 214.50 C717.47 217.03 721.88 219.20 726.00 221.70 C730.12 224.20 734.67 227.02 739.00 229.50 C743.33 231.98 747.67 234.43 752.00 236.60 C756.33 238.77 760.67 240.65 765.00 242.50 C769.33 244.35 773.83 246.25 778.00 247.70 C782.17 249.15 786.33 250.15 790.00 251.20 C793.67 252.25 796.67 253.15 800.00 254.00 C803.33 254.85 806.67 255.65 810.00 256.30 C813.33 256.95 816.67 257.48 820.00 257.90 C823.33 258.32 826.67 258.62 830.00 258.80 C833.33 258.98 836.67 258.97 840.00 259.00 C843.33 259.03 846.67 259.13 850.00 259.00 C853.33 258.87 856.67 258.62 860.00 258.20 C863.33 257.78 866.67 257.12 870.00 256.50 C873.33 255.88 877.33 255.08 880.00 254.50 C882.67 253.92 885.00 253.25 886.00 253.00" stroke="#00529F" stroke-width="2.45" fill="none" stroke-linecap="butt" stroke-linejoin="round"/>
<path d="M45.60 211.70 C52.67 208.77 74.67 199.17 88.00 194.10 C101.33 189.03 116.93 184.05 125.60 181.30 C134.27 178.55 134.27 179.08 140.00 177.60 C145.73 176.12 153.33 174.17 160.00 172.40 C166.67 170.63 173.33 168.77 180.00 167.00 C186.67 165.23 193.33 163.50 200.00 161.80 C206.67 160.10 210.00 158.70 220.00 156.80 C230.00 154.90 246.67 152.20 260.00 150.40 C273.33 148.60 286.67 147.17 300.00 146.00 C313.33 144.83 330.33 143.98 340.00 143.40 C349.67 142.82 350.50 142.85 358.00 142.50 C365.50 142.15 376.53 141.57 385.00 141.30 C393.47 141.03 402.30 140.95 408.80 140.90 C415.30 140.85 418.80 140.58 424.00 141.00 C429.20 141.42 434.67 142.47 440.00 143.40 C445.33 144.33 450.67 145.53 456.00 146.60 C461.33 147.67 466.67 148.82 472.00 149.80 C477.33 150.78 482.67 151.70 488.00 152.50 C493.33 153.30 498.67 153.72 504.00 154.60 C509.33 155.48 514.00 156.40 520.00 157.80 C526.00 159.20 534.00 160.97 540.00 163.00 C546.00 165.03 550.67 167.77 556.00 170.00 C561.33 172.23 566.67 174.40 572.00 176.40 C577.33 178.40 582.67 180.53 588.00 182.00 C593.33 183.47 598.67 184.58 604.00 185.20 C609.33 185.82 614.67 185.97 620.00 185.70 C625.33 185.43 630.67 184.88 636.00 183.60 C641.33 182.32 646.67 180.13 652.00 178.00 C657.33 175.87 662.67 173.47 668.00 170.80 C673.33 168.13 680.33 164.10 684.00 162.00 C687.67 159.90 687.83 160.12 690.00 158.20 C692.17 156.28 694.83 153.20 697.00 150.50 C699.17 147.80 701.00 144.58 703.00 142.00 C705.00 139.42 707.05 137.17 709.00 135.00 C710.95 132.83 712.70 130.67 714.70 129.00 C716.70 127.33 718.62 126.40 721.00 125.00 C723.38 123.60 725.50 122.62 729.00 120.60 C732.50 118.58 737.67 115.32 742.00 112.90 C746.33 110.48 750.67 107.97 755.00 106.10 C759.33 104.23 763.67 102.87 768.00 101.70 C772.33 100.53 776.67 99.75 781.00 99.10 C785.33 98.45 789.67 98.02 794.00 97.80 C798.33 97.58 802.67 97.45 807.00 97.80 C811.33 98.15 815.67 98.95 820.00 99.90 C824.33 100.85 828.67 102.03 833.00 103.50 C837.33 104.97 841.67 106.62 846.00 108.70 C850.33 110.78 854.67 113.27 859.00 116.00 C863.33 118.73 867.50 121.65 872.00 125.10 C876.50 128.55 883.67 134.77 886.00 136.70" stroke="#D82A20" stroke-width="2.45" fill="none" stroke-linecap="butt" stroke-linejoin="round"/>
<path d="M45.60 429.60 C49.67 430.00 60.93 431.10 70.00 432.00 C79.07 432.90 90.00 434.10 100.00 435.00 C110.00 435.90 120.00 436.57 130.00 437.40 C140.00 438.23 150.00 439.30 160.00 440.00 C170.00 440.70 180.00 441.10 190.00 441.60 C200.00 442.10 211.67 442.60 220.00 443.00 C228.33 443.40 231.67 443.57 240.00 444.00 C248.33 444.43 258.33 445.07 270.00 445.60 C281.67 446.13 295.00 446.83 310.00 447.20 C325.00 447.57 345.00 447.70 360.00 447.80 C375.00 447.90 386.67 447.82 400.00 447.80 C413.33 447.78 428.33 447.83 440.00 447.70 C451.67 447.57 459.17 447.37 470.00 447.00 C480.83 446.63 493.33 446.00 505.00 445.50 C516.67 445.00 525.83 444.72 540.00 444.00 C554.17 443.28 577.50 441.72 590.00 441.20 C602.50 440.68 605.83 440.80 615.00 440.90 C624.17 441.00 636.17 441.28 645.00 441.80 C653.83 442.32 660.50 443.20 668.00 444.00 C675.50 444.80 681.33 445.45 690.00 446.60 C698.67 447.75 710.83 449.73 720.00 450.90 C729.17 452.07 736.67 452.83 745.00 453.60 C753.33 454.37 760.83 454.90 770.00 455.50 C779.17 456.10 788.33 456.85 800.00 457.20 C811.67 457.55 829.67 457.57 840.00 457.60 C850.33 457.63 856.00 457.53 862.00 457.40 C868.00 457.27 872.00 457.10 876.00 456.80 C880.00 456.50 884.33 455.80 886.00 455.60" stroke="#000000" stroke-width="2.45" fill="none" stroke-linecap="butt" stroke-linejoin="round"/>
<path d="M45.60 403.00 C49.67 403.73 62.60 405.97 70.00 407.40 C77.40 408.83 83.33 410.33 90.00 411.60 C96.67 412.87 103.33 413.87 110.00 415.00 C116.67 416.13 123.33 417.30 130.00 418.40 C136.67 419.50 143.33 420.57 150.00 421.60 C156.67 422.63 163.33 423.70 170.00 424.60 C176.67 425.50 183.33 426.20 190.00 427.00 C196.67 427.80 201.67 428.57 210.00 429.40 C218.33 430.23 230.00 431.23 240.00 432.00 C250.00 432.77 258.33 433.40 270.00 434.00 C281.67 434.60 295.00 435.38 310.00 435.60 C325.00 435.82 345.00 435.50 360.00 435.30 C375.00 435.10 386.67 434.68 400.00 434.40 C413.33 434.12 422.50 434.17 440.00 433.60 C457.50 433.03 488.33 431.85 505.00 431.00 C521.67 430.15 525.83 430.08 540.00 428.50 C554.17 426.92 575.83 423.08 590.00 421.50 C604.17 419.92 613.33 419.67 625.00 419.00 C636.67 418.33 649.67 417.83 660.00 417.50 C670.33 417.17 680.33 416.98 687.00 417.00 C693.67 417.02 692.83 417.18 700.00 417.60 C707.17 418.02 713.33 418.93 730.00 419.50 C746.67 420.07 780.00 420.55 800.00 421.00 C820.00 421.45 835.67 421.95 850.00 422.20 C864.33 422.45 880.00 422.45 886.00 422.50" stroke="#098137" stroke-width="2.45" fill="none" stroke-linecap="butt" stroke-linejoin="round"/>
<path d="M45.60 470.20 C59.67 470.23 102.60 470.57 130.00 470.40 C157.40 470.23 181.67 469.33 210.00 469.20 C238.33 469.07 260.00 469.60 300.00 469.60 C340.00 469.60 411.67 469.72 450.00 469.20 C488.33 468.68 506.67 467.50 530.00 466.50 C553.33 465.50 570.00 464.32 590.00 463.20 C610.00 462.08 631.67 460.73 650.00 459.80 C668.33 458.87 685.00 458.50 700.00 457.60 C715.00 456.70 728.33 455.60 740.00 454.40 C751.67 453.20 761.67 451.87 770.00 450.40 C778.33 448.93 781.67 447.60 790.00 445.60 C798.33 443.60 810.00 440.90 820.00 438.40 C830.00 435.90 841.67 433.07 850.00 430.60 C858.33 428.13 864.00 425.70 870.00 423.60 C876.00 421.50 883.33 418.93 886.00 418.00" stroke="#FDE401" stroke-width="2.45" fill="none" stroke-linecap="butt" stroke-linejoin="round"/>
<path d="M45.60 459.40 C52.17 459.63 71.27 460.28 85.00 460.80 C98.73 461.32 120.83 462.22 128.00 462.50" stroke="#32DAC3" stroke-width="2.45" fill="none" stroke-linecap="butt" stroke-linejoin="round"/>
<path d="M45.60 464.20 C59.33 464.50 107.27 465.63 128.00 466.00 C148.73 466.37 141.33 466.28 170.00 466.40 C198.67 466.52 255.00 466.57 300.00 466.70 C345.00 466.83 390.00 467.05 440.00 467.20 C490.00 467.35 553.33 467.57 600.00 467.60 C646.67 467.63 686.67 467.27 720.00 467.40 C753.33 467.53 775.00 468.17 800.00 468.40 C825.00 468.63 855.67 468.77 870.00 468.80 C884.33 468.83 883.33 468.63 886.00 468.60" stroke="#EF4A42" stroke-width="2.45" fill="none" stroke-linecap="butt" stroke-linejoin="round"/>
<path d="M126.00 471.60 C138.33 471.50 171.00 471.20 200.00 471.00 C229.00 470.80 260.00 470.73 300.00 470.40 C340.00 470.07 393.33 469.30 440.00 469.00 C486.67 468.70 533.33 468.68 580.00 468.60 C626.67 468.52 683.33 468.87 720.00 468.50 C756.67 468.13 776.67 466.92 800.00 466.40 C823.33 465.88 845.67 465.83 860.00 465.40 C874.33 464.97 881.67 464.07 886.00 463.80" stroke="#00AEEF" stroke-width="2.45" fill="none" stroke-linecap="butt" stroke-linejoin="round"/>
<path d="M20.96 154.64L28.86 147.04L36.76 154.64L28.86 162.24Z" fill="none" stroke="#ffffff" stroke-width="2.8"/><path d="M20.96 154.64L28.86 147.04L36.76 154.64L28.86 162.24Z" fill="none" stroke="#00529F" stroke-width="1.25"/>
<path d="M877.80 289.61L885.70 282.01L893.60 289.61L885.70 297.21Z" fill="none" stroke="#ffffff" stroke-width="2.8"/><path d="M877.80 289.61L885.70 282.01L893.60 289.61L885.70 297.21Z" fill="none" stroke="#00529F" stroke-width="1.25"/>
<path d="M20.96 208.49L28.86 200.89L36.76 208.49L28.86 216.09Z" fill="none" stroke="#ffffff" stroke-width="2.8"/><path d="M20.96 208.49L28.86 200.89L36.76 208.49L28.86 216.09Z" fill="none" stroke="#D82A20" stroke-width="1.25"/>
<path d="M877.80 114.44L885.70 106.84L893.60 114.44L885.70 122.04Z" fill="none" stroke="#ffffff" stroke-width="2.8"/><path d="M877.80 114.44L885.70 106.84L893.60 114.44L885.70 122.04Z" fill="none" stroke="#D82A20" stroke-width="1.25"/>
<path d="M20.96 421.71L28.86 414.11L36.76 421.71L28.86 429.31Z" fill="none" stroke="#ffffff" stroke-width="2.8"/><path d="M20.96 421.71L28.86 414.11L36.76 421.71L28.86 429.31Z" fill="none" stroke="#000000" stroke-width="1.25"/>
<path d="M877.80 454.73L885.70 447.13L893.60 454.73L885.70 462.33Z" fill="none" stroke="#ffffff" stroke-width="2.8"/><path d="M877.80 454.73L885.70 447.13L893.60 454.73L885.70 462.33Z" fill="none" stroke="#000000" stroke-width="1.25"/>
<path d="M20.96 428.17L28.86 420.57L36.76 428.17L28.86 435.77Z" fill="none" stroke="#ffffff" stroke-width="2.8"/><path d="M20.96 428.17L28.86 420.57L36.76 428.17L28.86 435.77Z" fill="none" stroke="#098137" stroke-width="1.25"/>
<path d="M877.80 416.68L885.70 409.08L893.60 416.68L885.70 424.28Z" fill="none" stroke="#ffffff" stroke-width="2.8"/><path d="M877.80 416.68L885.70 409.08L893.60 416.68L885.70 424.28Z" fill="none" stroke="#098137" stroke-width="1.25"/>
<path d="M20.96 469.81L28.86 462.21L36.76 469.81L28.86 477.41Z" fill="none" stroke="#ffffff" stroke-width="2.8"/><path d="M20.96 469.81L28.86 462.21L36.76 469.81L28.86 477.41Z" fill="none" stroke="#FDE401" stroke-width="1.25"/>
<path d="M877.80 418.84L885.70 411.24L893.60 418.84L885.70 426.44Z" fill="none" stroke="#ffffff" stroke-width="2.8"/><path d="M877.80 418.84L885.70 411.24L893.60 418.84L885.70 426.44Z" fill="none" stroke="#FDE401" stroke-width="1.25"/>
<path d="M20.96 456.17L28.86 448.57L36.76 456.17L28.86 463.77Z" fill="none" stroke="#ffffff" stroke-width="2.8"/><path d="M20.96 456.17L28.86 448.57L36.76 456.17L28.86 463.77Z" fill="none" stroke="#32DAC3" stroke-width="1.25"/>
<path d="M877.80 462.63L885.70 455.03L893.60 462.63L885.70 470.23Z" fill="none" stroke="#ffffff" stroke-width="2.8"/><path d="M877.80 462.63L885.70 455.03L893.60 462.63L885.70 470.23Z" fill="none" stroke="#32DAC3" stroke-width="1.25"/>
<path d="M20.96 464.78L28.86 457.18L36.76 464.78L28.86 472.38Z" fill="none" stroke="#ffffff" stroke-width="2.8"/><path d="M20.96 464.78L28.86 457.18L36.76 464.78L28.86 472.38Z" fill="none" stroke="#EF4A42" stroke-width="1.25"/>
<path d="M877.80 464.78L885.70 457.18L893.60 464.78L885.70 472.38Z" fill="none" stroke="#ffffff" stroke-width="2.8"/><path d="M877.80 464.78L885.70 457.18L893.60 464.78L885.70 472.38Z" fill="none" stroke="#EF4A42" stroke-width="1.25"/>
<path d="M20.96 471.96L28.86 464.36L36.76 471.96L28.86 479.56Z" fill="none" stroke="#ffffff" stroke-width="2.8"/><path d="M20.96 471.96L28.86 464.36L36.76 471.96L28.86 479.56Z" fill="none" stroke="#00AEEF" stroke-width="1.25"/>
<path d="M877.80 462.63L885.70 455.03L893.60 462.63L885.70 470.23Z" fill="none" stroke="#ffffff" stroke-width="2.8"/><path d="M877.80 462.63L885.70 455.03L893.60 462.63L885.70 470.23Z" fill="none" stroke="#00AEEF" stroke-width="1.25"/>
<path d="M24.96 154.64L28.86 150.84L32.76 154.64L28.86 158.44Z" fill="#00529F"/>
<path d="M881.80 289.61L885.70 285.81L889.60 289.61L885.70 293.41Z" fill="#00529F"/>
<path d="M24.96 208.49L28.86 204.69L32.76 208.49L28.86 212.29Z" fill="#D82A20"/>
<path d="M881.80 114.44L885.70 110.64L889.60 114.44L885.70 118.24Z" fill="#D82A20"/>
<path d="M24.96 421.71L28.86 417.91L32.76 421.71L28.86 425.51Z" fill="#000000"/>
<path d="M881.80 454.73L885.70 450.93L889.60 454.73L885.70 458.53Z" fill="#000000"/>
<path d="M24.96 428.17L28.86 424.37L32.76 428.17L28.86 431.97Z" fill="#098137"/>
<path d="M881.80 416.68L885.70 412.88L889.60 416.68L885.70 420.48Z" fill="#098137"/>
<path d="M24.96 469.81L28.86 466.01L32.76 469.81L28.86 473.61Z" fill="#FDE401"/>
<path d="M881.80 418.84L885.70 415.04L889.60 418.84L885.70 422.64Z" fill="#FDE401"/>
<path d="M24.96 456.17L28.86 452.37L32.76 456.17L28.86 459.97Z" fill="#32DAC3"/>
<path d="M881.80 462.63L885.70 458.83L889.60 462.63L885.70 466.43Z" fill="#32DAC3"/>
<path d="M24.96 464.78L28.86 460.98L32.76 464.78L28.86 468.58Z" fill="#EF4A42"/>
<path d="M881.80 464.78L885.70 460.98L889.60 464.78L885.70 468.58Z" fill="#EF4A42"/>
<path d="M24.96 471.96L28.86 468.16L32.76 471.96L28.86 475.76Z" fill="#00AEEF"/>
<path d="M881.80 462.63L885.70 458.83L889.60 462.63L885.70 466.43Z" fill="#00AEEF"/>
</g>
<path d="M25.2 473.40H28.9 M25.2 437.50H28.9 M25.2 401.61H28.9 M25.2 365.71H28.9 M25.2 329.82H28.9 M25.2 293.92H28.9 M25.2 258.02H28.9 M25.2 222.13H28.9 M25.2 186.23H28.9 M25.2 150.33H28.9 M25.2 114.44H28.9 M25.2 78.54H28.9 M25.2 42.65H28.9 M25.2 6.75H28.9 M150.50 473.4V477.7 M291.27 473.4V477.7 M429.74 473.4V477.7 M570.51 473.4V477.7 M709.74 473.4V477.7 M850.51 473.4V477.7" stroke="#333333" stroke-width="1.1" fill="none"/>
<text x="22.6" y="479.00" font-size="14.8" fill="#4D4D4D" text-anchor="end">0</text>
<text x="22.6" y="443.10" font-size="14.8" fill="#4D4D4D" text-anchor="end">5</text>
<text x="22.6" y="407.21" font-size="14.8" fill="#4D4D4D" text-anchor="end">10</text>
<text x="22.6" y="371.31" font-size="14.8" fill="#4D4D4D" text-anchor="end">15</text>
<text x="22.6" y="335.42" font-size="14.8" fill="#4D4D4D" text-anchor="end">20</text>
<text x="22.6" y="299.52" font-size="14.8" fill="#4D4D4D" text-anchor="end">25</text>
<text x="22.6" y="263.62" font-size="14.8" fill="#4D4D4D" text-anchor="end">30</text>
<text x="22.6" y="227.73" font-size="14.8" fill="#4D4D4D" text-anchor="end">35</text>
<text x="22.6" y="191.83" font-size="14.8" fill="#4D4D4D" text-anchor="end">40</text>
<text x="22.6" y="155.93" font-size="14.8" fill="#4D4D4D" text-anchor="end">45</text>
<text x="22.6" y="120.04" font-size="14.8" fill="#4D4D4D" text-anchor="end">50</text>
<text x="22.6" y="84.14" font-size="14.8" fill="#4D4D4D" text-anchor="end">55</text>
<text x="22.6" y="48.25" font-size="14.8" fill="#4D4D4D" text-anchor="end">60</text>
<text x="22.6" y="12.35" font-size="14.8" fill="#4D4D4D" text-anchor="end">65</text>
<text x="149.60" y="490.6" font-size="14.3" fill="#4D4D4D" text-anchor="middle">2018-03-01</text>
<text x="290.37" y="490.6" font-size="14.3" fill="#4D4D4D" text-anchor="middle">2018-09-01</text>
<text x="428.84" y="490.6" font-size="14.3" fill="#4D4D4D" text-anchor="middle">2019-03-01</text>
<text x="569.61" y="490.6" font-size="14.3" fill="#4D4D4D" text-anchor="middle">2019-09-01</text>
<text x="708.84" y="490.6" font-size="14.3" fill="#4D4D4D" text-anchor="middle">2020-03-01</text>
<text x="849.61" y="490.6" font-size="14.3" fill="#4D4D4D" text-anchor="middle">2020-09-01</text>
<circle cx="915.8" cy="176.50" r="4.7" fill="#00529F"/>
<text x="933.8" y="181.80" font-size="14.4" fill="#000000">National</text>
<circle cx="915.8" cy="197.30" r="4.7" fill="#D82A20"/>
<text x="933.8" y="202.60" font-size="14.4" fill="#000000">Labour</text>
<circle cx="915.8" cy="218.10" r="4.7" fill="#000000"/>
<text x="933.8" y="223.40" font-size="14.4" fill="#000000">NZ First</text>
<circle cx="915.8" cy="238.90" r="4.7" fill="#098137"/>
<text x="933.8" y="244.20" font-size="14.4" fill="#000000">Green</text>
<circle cx="915.8" cy="259.70" r="4.7" fill="#FDE401"/>
<text x="933.8" y="265.00" font-size="14.4" fill="#000000">ACT</text>
<circle cx="915.8" cy="280.50" r="4.7" fill="#32DAC3"/>
<text x="933.8" y="285.80" font-size="14.4" fill="#000000">TOP</text>
<circle cx="915.8" cy="301.30" r="4.7" fill="#EF4A42"/>
<text x="933.8" y="306.60" font-size="14.4" fill="#000000">Māori</text>
<circle cx="915.8" cy="322.10" r="4.7" fill="#00AEEF"/>
<text x="933.8" y="327.40" font-size="14.4" fill="#000000">NCP</text>
</svg></body></html>
